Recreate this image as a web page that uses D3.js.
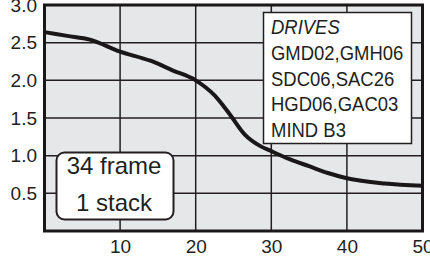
<!DOCTYPE html>
<html>
<head>
<meta charset="utf-8">
<script src="https://cdn.jsdelivr.net/npm/d3@7"></script>
<style>
  body { margin: 0; background: #fff; }
  svg { display: block; font-family: "Liberation Sans", Arial, sans-serif; }
</style>
</head>
<body>
<div id="main"></div>
<script>
const ctx = {
    w: 430,
    h: 258,
    margin: { top: 5, right: 7.5, bottom: 27, left: 44.5 },
};

// values
const curveX = [0, 3, 6, 10, 14, 17, 20, 22.5, 24.5, 26.5, 28.5, 30, 32.5, 35, 37.5, 40, 45, 50];
const curveY = [2.64, 2.59, 2.54, 2.38, 2.26, 2.13, 2.0, 1.80, 1.55, 1.28, 1.13, 1.06, 0.95, 0.86, 0.77, 0.70, 0.63, 0.60];
const xTicks = [10, 20, 30, 40, 50];
const yTicks = [0.5, 1.0, 1.5, 2.0, 2.5, 3.0];
const xGrid = [10, 20, 30, 40];
const yGrid = [0.5, 1.0, 1.5, 2.0, 2.5];
const legendTitle = "DRIVES";
const legendLines = ["GMD02,GMH06", "SDC06,SAC26", "HGD06,GAC03", "MIND B3"];
const noteLines = ["34 frame", "1 stack"];

const svg = d3.select("#main").append("svg")
    .attr("width", ctx.w)
    .attr("height", ctx.h);

const xScale = d3.scaleLinear().domain([0, 50])
    .range([ctx.margin.left, ctx.w - ctx.margin.right]);
const yScale = d3.scaleLinear().domain([0, 3])
    .range([ctx.h - ctx.margin.bottom, ctx.margin.top]);
const innerW = xScale(50) - xScale(0);
const innerH = yScale(0) - yScale(3);

// fond gris
svg.append("rect")
    .attr("x", xScale(0)).attr("y", yScale(3))
    .attr("width", innerW).attr("height", innerH)
    .attr("fill", "#e6e7e9");

// grille, en paths
const seg = d3.line();
const grid = svg.append("g").attr("id", "grid");
grid.selectAll("path.gx").data(xGrid).enter().append("path")
    .attr("class", "gx")
    .attr("d", d => seg([[xScale(d), yScale(0)], [xScale(d), yScale(3)]]));
grid.selectAll("path.gy").data(yGrid).enter().append("path")
    .attr("class", "gy")
    .attr("d", d => seg([[xScale(0), yScale(d)], [xScale(50), yScale(d)]]));
grid.selectAll("path")
    .attr("fill", "none")
    .attr("stroke", "#231f20")
    .attr("stroke-width", 1.5);

// courbe
const pts = curveX.map((d, i) => [d, curveY[i]]);
svg.append("path")
    .datum(pts)
    .attr("d", d3.line().x(d => xScale(d[0])).y(d => yScale(d[1])).curve(d3.curveMonotoneX))
    .attr("fill", "none")
    .attr("stroke", "#1a1718")
    .attr("stroke-width", 4);

// cadre
svg.append("rect")
    .attr("x", xScale(0)).attr("y", yScale(3))
    .attr("width", innerW).attr("height", innerH)
    .attr("fill", "none")
    .attr("stroke", "#1a1718").attr("stroke-width", 3);

// axes
const yAxis = svg.append("g")
    .attr("transform", `translate(${xScale(0)},0)`)
    .call(d3.axisLeft(yScale).tickValues(yTicks).tickFormat(d3.format(".1f")).tickSize(0).tickPadding(7.5));
const xAxis = svg.append("g")
    .attr("transform", `translate(0,${yScale(0)})`)
    .call(d3.axisBottom(xScale).tickValues(xTicks).tickFormat(d3.format("d")).tickSize(0).tickPadding(9));
[xAxis, yAxis].forEach(a => {
    a.select(".domain").remove();
    a.selectAll("text")
        .style("font-size", "19px")
        .style("font-family", "'Liberation Sans', Arial, sans-serif")
        .attr("fill", "#231f20");
});

// légende
svg.append("rect")
    .attr("x", 263.5).attr("y", 12.5)
    .attr("width", 148).attr("height", 131)
    .attr("fill", "#fff")
    .attr("stroke", "#231f20").attr("stroke-width", 1.5);
const lg = svg.append("g").attr("transform", "translate(271,0) scale(0.88,1)");
lg.append("text")
    .attr("x", 0).attr("y", 34)
    .style("font-size", "21px").style("font-style", "italic")
    .attr("fill", "#231f20")
    .text(legendTitle);
lg.selectAll("text.item").data(legendLines).enter().append("text")
    .attr("class", "item")
    .attr("x", 0).attr("y", (d, i) => 60 + i * 25.7)
    .style("font-size", "21px")
    .attr("fill", "#231f20")
    .text(d => d);

// encadré
svg.append("rect")
    .attr("x", 56.5).attr("y", 152.5)
    .attr("width", 117).attr("height", 67)
    .attr("rx", 8).attr("ry", 8)
    .attr("fill", "#fff")
    .attr("stroke", "#231f20").attr("stroke-width", 2);
svg.selectAll("text.note").data(noteLines).enter().append("text")
    .attr("class", "note")
    .attr("x", 114).attr("y", (d, i) => 174 + i * 37)
    .attr("text-anchor", "middle")
    .style("font-size", "24px")
    .attr("fill", "#231f20")
    .text(d => d);
</script>
</body>
</html>
